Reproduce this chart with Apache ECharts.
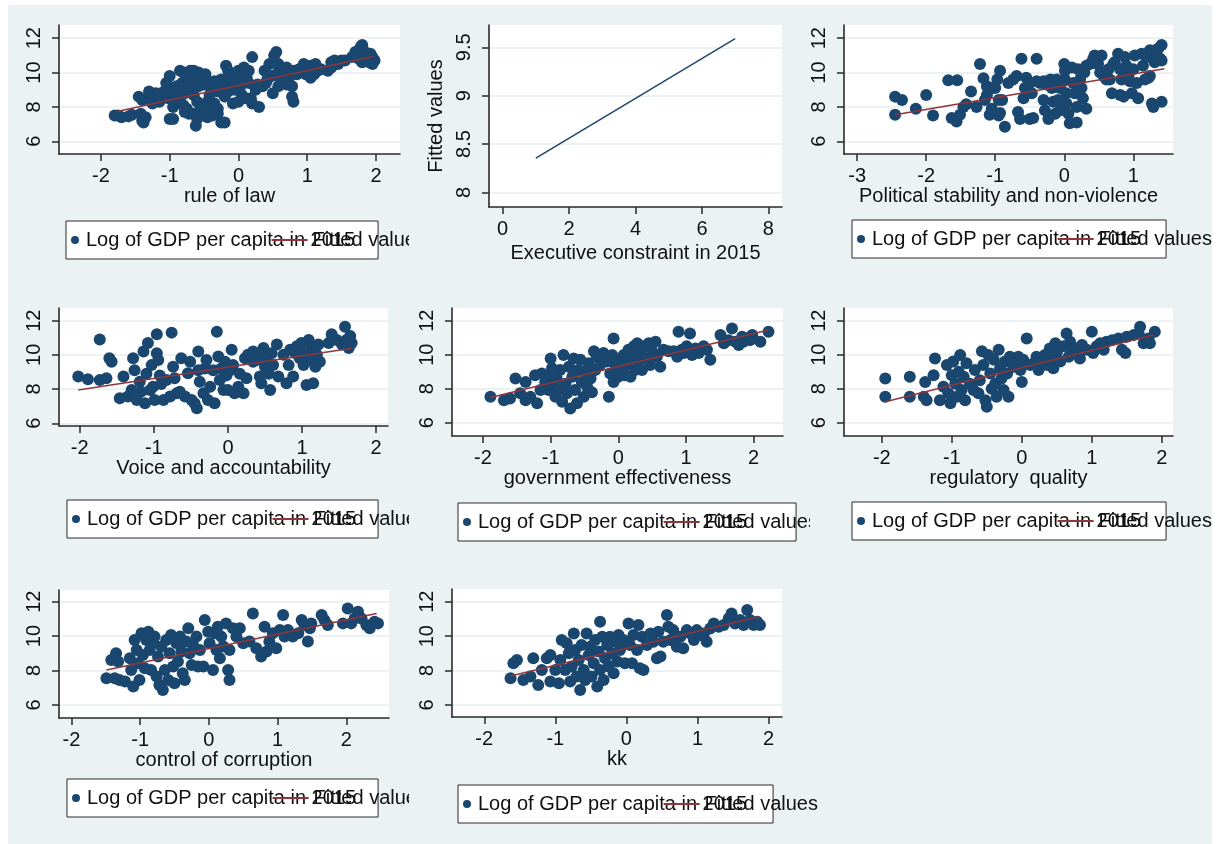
<!DOCTYPE html>
<html>
<head>
<meta charset="utf-8">
<script src="https://cdn.jsdelivr.net/npm/echarts@6/dist/echarts.min.js"></script>
<style>
  html, body { margin: 0; padding: 0; background: #fff; }
  #page { position: relative; width: 1217px; height: 844px; }
  .panel { position: absolute; overflow: hidden; background: #eaf2f3; }
</style>
</head>
<body>
<div id="page"></div>
<script>
const gdpName = 'Log of GDP per capita in 2015'
const fitName = 'Fitted values'

// tick values
const gdpTicks = [6, 8, 10, 12]
const wgiTicks = [-2, -1, 0, 1, 2]
const stabTicks = [-3, -2, -1, 0, 1]
const execTicks = [0, 2, 4, 6, 8]
const fittedTicks = [8, 8.5, 9, 9.5]

// rule of law vs log GDP
const ruleOfLaw = [
  [-1.8,7.5],[-1.75,7.5],[-1.7,7.4],[-1.6,7.45],[-1.55,7.55],
  [-1.45,8.6],[-1.4,8.4],[-1.42,7.6],[-1.4,7.2],[-1.38,7.1],[-1.35,7.4],
  [-1.3,8.9],[-1.25,8.6],[-1.2,8.8],[-1.15,8.3],[-1.1,8.7],[-1.25,8.2],
  [-1.05,9.4],[-1.0,9.8],[-0.98,9.0],[-1.02,8.5],[-0.95,8.0],[-1.0,7.3],[-0.95,7.3],[-1.08,8.9],[-0.92,8.6],[-0.9,9.2],
  [-0.85,10.1],[-0.8,10.0],[-0.75,9.7],[-0.82,9.4],[-0.88,9.1],[-0.78,8.8],[-0.85,8.5],[-0.8,8.1],[-0.75,7.9],[-0.72,7.6],[-0.78,7.7],[-0.7,10.1],[-0.72,9.3],[-0.7,8.9],
  [-0.65,10.1],[-0.6,9.9],[-0.62,9.5],[-0.58,9.2],[-0.65,8.7],[-0.6,8.3],[-0.55,8.0],[-0.65,7.6],[-0.6,7.3],[-0.62,6.9],[-0.55,7.5],[-0.52,9.7],[-0.5,9.3],[-0.58,10.0],
  [-0.48,9.9],[-0.45,9.5],[-0.4,9.1],[-0.42,8.7],[-0.45,8.3],[-0.4,7.8],[-0.45,7.4],[-0.38,7.5],[-0.35,9.5],[-0.32,9.2],[-0.3,8.9],[-0.35,8.2],[-0.3,7.9],[-0.3,7.6],
  [-0.25,9.6],[-0.2,9.4],[-0.18,10.4],[-0.15,10.1],[-0.22,9.0],[-0.2,8.6],[-0.15,8.9],[-0.25,7.1],[-0.2,7.1],[-0.12,9.7],[-0.1,9.2],
  [-0.05,9.8],[0.0,10.1],[0.05,9.7],[-0.02,9.4],[0.02,9.1],[0.08,10.3],[-0.08,8.2],[0.0,8.3],[0.05,8.7],[0.1,8.5],[0.08,9.6],[-0.05,9.0],
  [0.15,10.1],[0.12,9.7],[0.15,9.4],[0.2,10.9],[0.2,8.2],[0.25,9.0],[0.3,8.0],[0.28,9.3],[0.18,8.5],
  [0.35,9.2],[0.4,9.4],[0.45,10.5],[0.48,9.8],[0.5,8.8],[0.42,9.6],[0.38,10.1],
  [0.52,11.0],[0.55,11.2],[0.58,10.5],[0.6,10.2],[0.55,9.9],[0.62,9.5],[0.65,9.6],[0.58,9.2],[0.7,10.3],[0.68,9.8],[0.7,9.3],[0.52,10.6],
  [0.75,9.8],[0.78,8.6],[0.8,8.3],[0.78,9.2],[0.8,10.1],[0.85,9.9],[0.88,10.2],
  [0.95,10.5],[1.0,10.3],[1.05,10.4],[1.1,9.9],[1.12,10.5],[1.15,10.1],[0.98,9.9],[1.05,9.7],[1.2,10.2],[1.1,10.3],
  [1.3,10.1],[1.35,10.6],[1.4,10.7],[1.45,10.5],[1.35,10.3],[1.5,10.7],[1.55,10.7],
  [1.65,10.9],[1.7,11.2],[1.72,11.0],[1.75,11.3],[1.78,11.5],[1.8,11.6],[1.82,11.3],[1.75,10.8],[1.8,10.6],[1.85,11.0],[1.88,10.8],[1.9,10.6],[1.92,11.1],[1.95,10.9],[1.98,10.7],[1.95,10.5]
]
const ruleOfLawFit = [[-1.75, 7.75], [1.97, 10.95]]

// executive constraint: fitted values only
const execFit = [[1, 8.355], [7, 9.59]]

// political stability
const stability = [
  [-2.45,8.6],[-2.35,8.4],[-2.45,7.55],[-2.15,7.9],[-2.0,8.7],[-1.9,7.5],
  [-1.68,9.55],[-1.55,9.55],[-1.63,7.35],[-1.56,7.15],[-1.51,7.55],[-1.46,8.0],[-1.42,8.15],[-1.35,8.9],[-1.27,8.0],[-1.22,10.5],
  [-1.17,9.67],[-1.15,8.4],[-1.12,8.7],[-1.08,7.55],[-1.05,7.9],[-1.0,9.1],[-0.97,9.6],[-0.93,10.1],[-0.9,8.4],[-0.95,7.5],[-0.86,6.85],[-1.12,9.2],
  [-1.05,9.1],[-0.95,8.4],[-0.93,7.65],
  [-0.81,9.4],[-0.74,9.6],[-0.69,9.8],[-0.67,7.7],[-0.64,7.3],[-0.62,10.8],[-0.59,8.5],[-0.57,9.1],[-0.55,9.7],[-0.5,7.3],[-0.45,7.35],[-0.47,8.8],[-0.5,9.4],[-0.4,10.8],[-0.4,9.5],
  [-0.35,9.4],[-0.3,8.4],[-0.28,7.8],[-0.23,7.3],[-0.2,9.6],[-0.18,9.1],[-0.16,8.3],[-0.13,7.6],[-0.11,9.6],[-0.09,8.4],[-0.06,9.1],[-0.3,9.5],[-0.26,9.3],
  [0.0,10.5],[0.01,9.6],[0.03,8.8],[0.03,8.2],[0.06,7.6],[0.08,7.05],[0.11,10.3],[0.13,9.4],[0.15,8.8],[0.18,8.0],[0.2,10.2],[0.23,9.6],[0.25,9.1],[0.27,8.5],[0.32,7.9],[0.18,7.1],[0.29,10.0],
  [0.01,10.1],[-0.06,7.8],
  [0.32,10.4],[0.37,10.5],[0.42,10.8],[0.44,11.0],[0.49,10.5],[0.52,10.0],[0.57,9.8],[0.61,9.6],[0.66,9.6],[0.69,8.8],[0.71,10.5],[0.64,10.2],[0.54,11.0],
  [0.73,10.6],[0.78,11.1],[0.81,10.2],[0.83,9.6],[0.86,8.6],[0.88,10.9],[0.9,10.4],[0.95,9.5],[0.98,8.8],[1.0,10.2],[1.02,11.0],[1.05,9.4],[1.07,8.5],[0.81,8.7],[0.93,9.8],
  [1.12,11.1],[1.14,10.4],[1.19,10.9],[1.22,9.7],[1.24,11.3],[1.27,8.2],[1.29,8.0],[1.31,10.6],[1.34,11.0],[1.36,11.4],[1.39,10.8],[1.41,8.3],[1.41,11.6],[1.24,9.8],[1.17,9.6],[1.41,10.7]
]
const stabilityFit = [[-2.45, 7.55], [1.45, 10.22]]

// voice and accountability
const voice = [
  [-2.02,8.73],[-1.89,8.57],[-1.73,10.9],[-1.73,8.53],[-1.64,8.63],[-1.6,9.8],[-1.57,9.6],[-1.41,8.73],[-1.46,7.46],[-1.35,7.56],
  [-1.3,7.95],[-1.28,9.8],[-1.26,9.1],[-1.23,7.36],[-1.19,8.43],[-1.17,7.85],[-1.14,10.2],[-1.12,7.17],[-1.1,8.9],[-1.08,10.7],
  [-1.05,7.95],[-1.03,9.4],[-1.01,8.14],[-0.99,7.36],[-0.96,11.2],[-0.96,10.1],[-0.94,9.7],[-0.92,8.8],[-0.9,8.3],[-0.87,7.36],
  [-0.83,8.53],[-0.78,7.56],[-0.76,11.3],[-0.74,9.3],[-0.72,8.63],[-0.69,7.75],[-0.65,7.85],[-0.63,9.8],[-0.58,7.56],[-0.54,8.92],
  [-0.51,9.6],[-0.49,7.36],[-0.45,7.17],[-0.42,6.88],[-0.4,10.2],[-0.4,9.1],[-0.38,8.43],[-0.33,7.75],[-0.31,9.2],[-0.29,9.7],
  [-0.27,7.36],[-0.24,8.14],[-0.2,9.1],[-0.18,7.17],[-0.15,11.35],[-0.13,9.9],[-0.11,8.53],[-0.09,9.2],[-0.06,7.95],[-0.04,9.6],
  [-0.02,8.8],[0.0,7.95],[0.03,9.1],[0.05,10.3],[0.07,9.4],[0.09,7.75],[0.14,8.14],[0.16,8.9],[0.21,7.75],[0.23,9.8],
  [0.25,8.63],[0.27,10.0],[0.34,10.2],[0.39,9.7],[0.43,8.73],[0.45,8.34],[0.48,10.4],[0.5,9.3],[0.52,9.9],[0.55,8.9],
  [0.57,7.95],[0.59,10.1],[0.61,9.4],[0.66,10.6],[0.68,8.73],[0.75,10.0],[0.79,8.34],[0.82,9.4],[0.84,10.3],[0.88,8.73],
  [0.91,10.1],[0.93,10.5],[0.97,9.8],[0.99,10.7],[1.02,9.4],[1.04,10.1],[1.06,8.24],[1.09,10.87],[1.11,9.7],[1.13,10.4],
  [1.15,8.34],[1.18,9.3],[1.2,10.0],[1.22,10.6],[1.24,9.6],[1.36,10.7],[1.4,11.2],[1.47,10.87],[1.54,10.6],[1.58,11.65],
  [1.6,10.87],[1.63,10.4],[1.65,11.1],[1.67,10.7],[0.34,9.6],[0.41,10.0]
]
const voiceFit = [[-2.02, 7.95], [1.67, 10.38]]

// government effectiveness
const govEff = [
  [-1.89,7.53],[-1.69,7.33],[-1.6,7.43],[-1.52,8.6],[-1.45,7.73],[-1.37,8.4],[-1.37,7.33],[-1.3,7.53],[-1.23,8.8],[-1.2,7.14],
  [-1.15,7.92],[-1.13,8.9],[-1.08,8.4],[-1.05,8.7],[-1.03,7.92],[-1.0,9.78],[-0.98,9.2],[-0.96,8.2],[-0.93,7.53],[-0.91,8.6],
  [-0.88,7.92],[-0.86,9.1],[-0.83,7.24],[-0.81,9.98],[-0.78,8.3],[-0.76,7.73],[-0.73,9.3],[-0.71,6.84],[-0.68,8.7],[-0.66,9.78],
  [-0.64,7.92],[-0.61,7.14],[-0.59,9.1],[-0.56,9.7],[-0.54,8.4],[-0.51,7.53],[-0.49,9.0],[-0.46,8.1],[-0.44,9.5],[-0.41,8.6],
  [-0.39,7.8],[-0.36,10.2],[-0.34,9.1],[-0.32,9.88],[-0.27,9.4],[-0.22,10.1],[-0.17,9.6],[-0.14,7.53],[-0.12,8.9],[-0.09,9.98],
  [-0.07,8.4],[-0.07,10.96],[-0.04,9.4],[0.0,8.7],[0.03,9.1],[0.05,9.7],[0.08,9.98],[0.1,8.8],[0.13,9.4],[0.15,10.3],
  [0.18,8.7],[0.2,9.88],[0.23,10.5],[0.25,9.1],[0.28,10.67],[0.3,9.6],[0.33,10.2],[0.35,9.1],[0.37,10.5],[0.42,9.78],
  [0.45,10.67],[0.47,9.4],[0.5,10.2],[0.55,10.76],[0.57,9.88],[0.62,9.3],[0.67,10.3],[0.74,10.2],[0.82,10.2],[0.87,9.88],
  [0.89,11.35],[0.94,10.3],[0.97,10.1],[1.01,10.5],[1.06,11.25],[1.09,9.98],[1.14,10.37],[1.19,10.1],[1.26,10.5],[1.36,9.7],
  [1.31,10.3],[1.51,11.16],[1.56,10.67],[1.63,10.86],[1.68,11.55],[1.73,10.76],[1.78,10.57],[1.83,11.06],[1.85,10.76],[1.9,10.96],
  [1.95,10.86],[1.98,11.16],[2.1,10.76],[2.22,11.35]
]
const govEffFit = [[-1.89, 7.49], [2.22, 11.45]]

// regulatory quality
const regQuality = [
  [-1.95,8.6],[-1.95,7.53],[-1.6,8.7],[-1.6,7.53],[-1.38,8.4],[-1.4,7.53],[-1.36,7.33],[-1.26,8.8],[-1.24,9.78],[-1.17,7.33],
  [-1.12,8.12],[-1.07,9.4],[-1.05,7.73],[-1.02,7.14],[-1.0,8.8],[-0.98,9.6],[-0.95,8.3],[-0.93,7.53],[-0.9,9.0],[-0.88,9.98],
  [-0.86,7.92],[-0.83,8.7],[-0.81,7.33],[-0.79,9.5],[-0.74,8.3],[-0.69,7.92],[-0.67,9.1],[-0.62,7.73],[-0.6,8.5],[-0.57,10.2],
  [-0.55,9.4],[-0.52,7.33],[-0.5,6.94],[-0.48,9.98],[-0.45,8.9],[-0.43,8.0],[-0.4,9.7],[-0.38,8.3],[-0.36,7.53],[-0.33,10.3],
  [-0.31,9.2],[-0.29,8.6],[-0.26,7.92],[-0.24,9.6],[-0.21,8.9],[-0.19,7.53],[-0.17,9.88],[-0.12,9.3],[-0.07,9.6],[-0.05,9.88],
  [-0.02,9.1],[0.0,8.4],[0.02,9.7],[0.07,10.96],[0.12,9.4],[0.17,9.5],[0.21,9.88],[0.24,9.1],[0.29,9.6],[0.33,9.98],
  [0.36,9.4],[0.4,10.37],[0.43,9.78],[0.45,9.2],[0.48,10.67],[0.5,10.1],[0.55,9.6],[0.6,10.5],[0.64,11.25],[0.67,9.88],
  [0.69,10.76],[0.74,10.2],[0.79,10.37],[0.83,9.78],[0.86,10.57],[0.93,10.3],[1.0,11.35],[1.02,10.1],[1.07,10.5],[1.12,10.67],
  [1.17,10.3],[1.21,10.76],[1.29,10.86],[1.38,10.96],[1.43,10.3],[1.48,10.1],[1.5,11.06],[1.6,11.16],[1.67,11.25],[1.69,11.65],
  [1.74,10.67],[1.81,10.96],[1.83,10.67],[1.9,11.35]
]
const regQualityFit = [[-1.95, 7.24], [1.88, 11.16]]

// control of corruption
const corruption = [
  [-1.49,7.55],[-1.42,8.61],[-1.37,7.55],[-1.35,9.0],[-1.32,8.52],[-1.3,7.45],[-1.22,7.36],[-1.15,8.71],[-1.13,8.03],[-1.1,7.07],
  [-1.08,9.77],[-1.05,9.19],[-1.03,8.42],[-1.01,7.45],[-0.98,10.16],[-0.96,8.9],[-0.93,8.13],[-0.91,9.77],[-0.88,10.26],[-0.86,9.19],
  [-0.84,8.03],[-0.81,9.58],[-0.79,9.97],[-0.76,7.65],[-0.74,8.81],[-0.72,7.16],[-0.69,9.39],[-0.67,6.87],[-0.64,8.03],[-0.62,9.77],
  [-0.59,7.45],[-0.57,9.0],[-0.55,10.06],[-0.52,8.23],[-0.5,7.26],[-0.47,9.58],[-0.45,8.52],[-0.42,9.97],[-0.4,9.1],[-0.38,7.84],
  [-0.35,7.45],[-0.33,9.68],[-0.3,10.45],[-0.28,9.0],[-0.25,8.32],[-0.23,9.48],[-0.18,9.97],[-0.16,8.23],[-0.13,9.19],[-0.08,8.23],
  [-0.06,10.94],[-0.01,10.26],[0.01,9.58],[0.06,8.03],[0.09,10.16],[0.11,9.19],[0.13,10.55],[0.16,8.71],[0.18,9.97],[0.21,9.39],
  [0.25,10.74],[0.28,8.03],[0.3,7.45],[0.3,9.19],[0.35,10.45],[0.4,9.97],[0.45,10.45],[0.5,9.58],[0.59,9.68],[0.64,11.32],
  [0.69,9.29],[0.76,8.81],[0.81,10.55],[0.84,9.1],[0.88,9.68],[0.93,10.16],[0.98,9.29],[1.03,10.35],[1.08,11.23],[1.1,9.97],
  [1.15,10.35],[1.22,9.97],[1.3,10.16],[1.35,10.94],[1.39,10.65],[1.44,9.68],[1.47,10.45],[1.49,10.74],[1.64,11.23],[1.68,10.94],
  [1.73,10.65],[1.95,10.74],[2.02,11.61],[2.07,10.74],[2.12,11.03],[2.17,11.42],[2.22,11.03],[2.29,10.65],[2.34,10.45],[2.41,10.84],
  [2.46,10.74]
]
const corruptionFit = [[-1.49, 8.03], [2.44, 11.32]]

// kk
const kk = [
  [-1.63,7.55],[-1.59,8.42],[-1.54,8.61],[-1.45,7.45],[-1.35,7.65],[-1.31,8.71],[-1.24,7.16],[-1.19,8.03],[-1.12,8.71],[-1.07,8.9],
  [-1.07,7.36],[-1.0,8.03],[-0.95,7.26],[-0.93,8.61],[-0.91,9.77],[-0.86,8.03],[-0.84,9.58],[-0.81,9.0],[-0.79,7.36],[-0.77,8.23],
  [-0.74,10.16],[-0.72,9.19],[-0.7,7.65],[-0.67,8.61],[-0.65,6.87],[-0.63,9.48],[-0.6,8.03],[-0.58,7.45],[-0.56,10.16],[-0.53,8.9],
  [-0.51,9.39],[-0.49,7.65],[-0.46,8.42],[-0.44,9.77],[-0.41,7.07],[-0.39,9.1],[-0.37,8.03],[-0.37,10.84],[-0.34,9.97],[-0.32,7.45],
  [-0.3,8.71],[-0.27,9.48],[-0.25,8.23],[-0.23,9.97],[-0.2,9.0],[-0.18,7.84],[-0.16,9.68],[-0.13,8.52],[-0.11,10.06],[-0.09,9.19],
  [-0.04,9.77],[-0.02,8.42],[0.03,10.74],[0.05,9.48],[0.08,8.42],[0.1,10.06],[0.15,9.19],[0.17,10.65],[0.19,8.13],[0.22,9.97],
  [0.24,8.03],[0.29,9.48],[0.34,10.16],[0.38,9.68],[0.43,8.71],[0.45,10.26],[0.48,8.81],[0.52,9.68],[0.57,11.23],[0.59,10.55],
  [0.62,9.77],[0.66,10.35],[0.71,9.39],[0.76,9.97],[0.8,9.29],[0.85,10.35],[0.9,10.16],[0.95,9.77],[0.99,10.35],[1.04,10.06],
  [1.09,10.16],[1.13,9.68],[1.18,10.45],[1.23,10.74],[1.3,10.55],[1.37,10.65],[1.44,11.03],[1.48,11.32],[1.53,10.74],[1.6,10.94],
  [1.65,10.65],[1.7,11.52],[1.74,10.94],[1.79,10.65],[1.84,10.84],[1.88,10.65]
]
const kkFit = [[-1.63, 7.68], [1.86, 11.13]]

const FONT = '"Liberation Sans", Arial, sans-serif'
const NAVY = '#1a476f'
const MAROON = '#90353b'
const INK = '#111'
const AXIS = '#2a2a2a'

// cell = panel box on the page, plot = white plot region, legend = [left, top, width]
const panels = [
  { cell: [8, 5, 401, 280], plot: [59, 25, 400, 154], x: [-2.61, 2.35], y: [5.26, 12.77],
    xTicks: wgiTicks, yTicks: gdpTicks, xTitle: 'rule of law', pts: ruleOfLaw, fit: ruleOfLawFit, legend: [66, 221, 314] },
  { cell: [409, 5, 401, 280], plot: [489, 25, 782, 207], x: [-0.41, 8.41], y: [7.85, 9.73],
    xTicks: execTicks, yTicks: fittedTicks, xTitle: 'Executive constraint in 2015', yTitle: 'Fitted values', fit: execFit },
  { cell: [810, 5, 402, 280], plot: [844, 25, 1173, 154], x: [-3.19, 1.575], y: [5.26, 12.77],
    xTicks: stabTicks, yTicks: gdpTicks, xTitle: 'Political stability and non-violence', pts: stability, fit: stabilityFit, legend: [852, 220, 316] },
  { cell: [8, 285, 401, 280], plot: [59, 308, 388, 426], x: [-2.28, 2.16], y: [5.84, 12.74],
    xTicks: wgiTicks, yTicks: gdpTicks, xTitle: 'Voice and accountability', pts: voice, fit: voiceFit, legend: [67, 500, 313] },
  { cell: [409, 285, 401, 280], plot: [452, 308, 783, 436], x: [-2.458, 2.434], y: [5.22, 12.75],
    xTicks: wgiTicks, yTicks: gdpTicks, xTitle: 'government effectiveness', pts: govEff, fit: govEffFit, legend: [458, 503, 340] },
  { cell: [810, 285, 402, 280], plot: [844, 308, 1173, 436], x: [-2.54, 2.16], y: [5.22, 12.75],
    xTicks: wgiTicks, yTicks: gdpTicks, xTitle: 'regulatory  quality', pts: regQuality, fit: regQualityFit, legend: [852, 502, 316] },
  { cell: [8, 565, 401, 279], plot: [59, 590, 389, 718], x: [-2.18, 2.62], y: [5.24, 12.68],
    xTicks: wgiTicks, yTicks: gdpTicks, xTitle: 'control of corruption', pts: corruption, fit: corruptionFit, legend: [67, 779, 313] },
  { cell: [409, 565, 803, 279], plot: [452, 589, 782, 717], x: [-2.454, 2.19], y: [5.3, 12.74],
    xTicks: wgiTicks, yTicks: gdpTicks, xTitle: 'kk', pts: kk, fit: kkFit, legend: [458, 785, 317] }
]

function axisBase(ticks) {
  return {
    type: 'value',
    axisLine: { show: true, onZero: false, lineStyle: { color: AXIS, width: 1.6 } },
    axisTick: { show: true, length: 7, customValues: ticks, lineStyle: { color: AXIS, width: 1.5 } },
    axisLabel: { customValues: ticks, fontSize: 20, color: INK, fontFamily: FONT },
    nameLocation: 'middle',
    nameTextStyle: { fontSize: 20, color: INK, fontFamily: FONT }
  }
}

function makePanel(p) {
  const div = document.createElement('div')
  div.className = 'panel'
  div.style.left = p.cell[0] + 'px'
  div.style.top = p.cell[1] + 'px'
  div.style.width = p.cell[2] + 'px'
  div.style.height = p.cell[3] + 'px'
  document.getElementById('page').appendChild(div)
  const chart = echarts.init(div, null, { renderer: 'canvas' })

  const xAxis = axisBase(p.xTicks)
  Object.assign(xAxis, { min: p.x[0], max: p.x[1], name: p.xTitle, nameGap: 32, splitLine: { show: false } })
  xAxis.axisLabel.margin = 12

  const yAxis = axisBase(p.yTicks)
  Object.assign(yAxis, {
    min: p.y[0], max: p.y[1], name: p.yTitle || '', nameGap: 33,
    splitLine: { show: true, lineStyle: { color: '#e6eef1', width: 1.5 } }
  })
  yAxis.axisLabel.rotate = 90
  yAxis.axisLabel.margin = 15

  const series = []
  const legend = []
  if (p.pts) {
    series.push({
      name: gdpName, type: 'scatter', data: p.pts, symbol: 'circle', symbolSize: 12,
      itemStyle: { color: NAVY, opacity: 1 }, silent: true
    })
    series.push({
      name: fitName, type: 'line', data: p.fit, symbol: 'none', silent: true,
      lineStyle: { color: MAROON, width: 1.5 }, itemStyle: { color: MAROON }
    })
    const bx = p.legend[0] - p.cell[0]
    const by = p.legend[1] - p.cell[1]
    const textW = 269
    legend.push({
      data: [gdpName], left: bx, top: by, orient: 'horizontal', selectedMode: false,
      padding: [9, p.legend[2] - 22 - textW, 9, 5], itemWidth: 12, itemHeight: 8, icon: 'circle',
      borderColor: AXIS, borderWidth: 1, borderRadius: 0, backgroundColor: '#fff',
      textStyle: { fontSize: 20, color: INK, fontFamily: FONT }, z: 4
    })
    legend.push({
      data: [fitName], left: bx + 22 + 224.6 - 5 - 36, top: by + 9, padding: 0, selectedMode: false,
      itemWidth: 36, itemHeight: 2, icon: 'rect',
      textStyle: { fontSize: 20, color: INK, fontFamily: FONT }, z: 5
    })
  } else {
    series.push({
      name: fitName, type: 'line', data: p.fit, symbol: 'none', silent: true,
      lineStyle: { color: NAVY, width: 1.5 }, itemStyle: { color: NAVY }
    })
  }

  chart.setOption({
    animation: false,
    textStyle: { fontFamily: FONT },
    grid: {
      left: p.plot[0] - p.cell[0],
      top: p.plot[1] - p.cell[1],
      width: p.plot[2] - p.plot[0],
      height: p.plot[3] - p.plot[1],
      show: true, backgroundColor: '#fff', borderWidth: 0,
      outerBoundsMode: 'none'
    },
    legend: legend,
    xAxis: xAxis,
    yAxis: yAxis,
    series: series
  })
}

panels.forEach(makePanel)
</script>
</body>
</html>
